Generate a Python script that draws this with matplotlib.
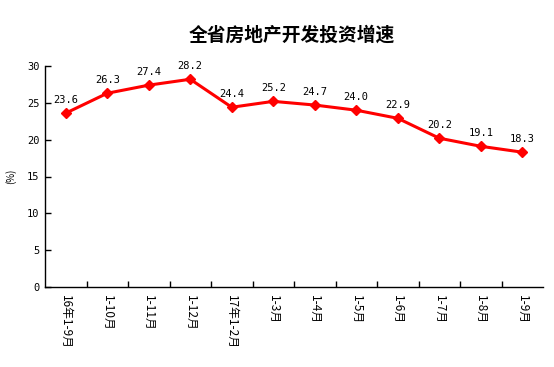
import matplotlib
matplotlib.use("Agg")
import matplotlib.pyplot as plt
from matplotlib.ticker import FixedLocator, NullFormatter, FixedFormatter

plt.rcParams['font.family'] = ['Noto Sans CJK SC', 'DejaVu Sans']

categories = ["16年1-9月", "1-10月", "1-11月", "1-12月", "17年1-2月", "1-3月",
              "1-4月", "1-5月", "1-6月", "1-7月", "1-8月", "1-9月"]
values = [23.6, 26.3, 27.4, 28.2, 24.4, 25.2, 24.7, 24.0, 22.9, 20.2, 19.1, 18.3]
yticks = [0, 5, 10, 15, 20, 25, 30]

fig = plt.figure(figsize=(5.54, 3.67), dpi=100)
ax = fig.add_axes([45/554, 1-287/367, (543-45)/554, (287-66)/367])

x = list(range(len(values)))
ax.plot(x, values, color='#ff0000', lw=2.2, marker='D', ms=5.5, mec='#ff0000', mfc='#ff0000')
for xi, v in zip(x, values):
    ax.annotate(f"{v:.1f}", (xi, v), xytext=(0, 6), textcoords='offset points',
                ha='center', va='bottom', fontsize=7.5, family='DejaVu Sans Mono')

ax.set_xlim(-0.5, len(values) - 0.5)
ax.set_ylim(0, 30)
ax.set_yticks(yticks)
ax.set_yticklabels([str(t) for t in yticks], fontsize=7.5, family='DejaVu Sans Mono')

ax.xaxis.set_major_locator(FixedLocator([i + 0.5 for i in range(len(values) - 1)]))
ax.xaxis.set_major_formatter(NullFormatter())
ax.xaxis.set_minor_locator(FixedLocator(x))
ax.xaxis.set_minor_formatter(FixedFormatter(categories))
ax.tick_params(axis='x', which='minor', length=0, pad=6, labelsize=8.5, labelrotation=-90)
ax.tick_params(axis='x', which='major', direction='in', length=4, width=1)
ax.tick_params(axis='y', direction='in', length=4, width=1, pad=4)
for lab in ax.xaxis.get_minorticklabels():
    lab.set_va('top')
    lab.set_ha('center')

ax.spines['top'].set_visible(False)
ax.spines['right'].set_visible(False)
ax.spines['left'].set_linewidth(1)
ax.spines['bottom'].set_linewidth(1)

fig.text(11/554, 1-176/367, "(%)", rotation=90, ha='center', va='center', fontsize=7)
fig.text(292/554, 1-35/367, "全省房地产开发投资增速", ha='center', va='center',
         fontsize=13.5, fontweight='bold')

fig.savefig("out.png", dpi=100)
